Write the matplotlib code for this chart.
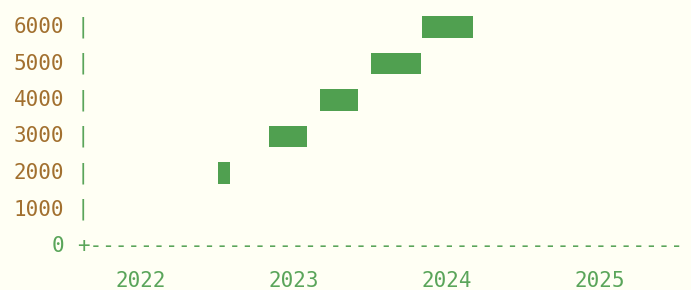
import matplotlib
matplotlib.use('Agg')
from matplotlib import pyplot as plt
from matplotlib import transforms

# rows of the range chart and the month span of each bar (year, month)
row_values = [2000, 3000, 4000, 5000, 6000]
span_start = [(2022, 7), (2022, 11), (2023, 3), (2023, 7), (2023, 11)]
span_end = [(2022, 8), (2023, 2), (2023, 6), (2023, 11), (2024, 3)]
y_ticks = [0, 1000, 2000, 3000, 4000, 5000, 6000]
x_ticks = [2022, 2023, 2024, 2025]

bg = '#fffff4'
brown = '#a2702f'
green = '#5aa55a'
bar_green = '#50a050'
mono = 'DejaVu Sans Mono'
fs = 15


def dec_year(ym):
    return ym[0] + (ym[1] - 1) / 12.0


fig = plt.figure(figsize=(6.91, 2.90), dpi=100, facecolor=bg)
ax = fig.add_axes([0, 0, 1, 1])
ax.set_facecolor(bg)
ax.axis('off')

# pixel layout: 2022 at x=141, 153 px per year; 0 at y=246, 36.5 px per 1000
ax.set_xlim(2022 - 141 / 153, 2022 + (691 - 141) / 153)
ax.set_ylim(-44 / 36.5 * 1000, 246 / 36.5 * 1000)

starts = [dec_year(s) for s in span_start]
widths = [dec_year(e) - dec_year(s) for s, e in zip(span_start, span_end)]
ax.barh(row_values, widths, left=starts, height=600, color=bar_green, edgecolor='none')

ty = transforms.blended_transform_factory(ax.transAxes, ax.transData)
tx = transforms.blended_transform_factory(ax.transData, ax.transAxes)

for v in y_ticks:
    col = green if v == 0 else brown
    ax.text(64 / 691, v, str(v), transform=ty, ha='right', va='center',
            fontsize=fs, family=mono, color=col)
    if v == 0:
        ax.text(77 / 691, v, '+' + '-' * 47, transform=ty, ha='left', va='center',
                fontsize=fs, family=mono, color=green)
    else:
        ax.text(83 / 691, v, '|', transform=ty, ha='center', va='center',
                fontsize=fs, family=mono, color=green)

for yr in x_ticks:
    ax.text(yr, 1 - 281 / 290, str(yr), transform=tx, ha='center', va='center',
            fontsize=fs, family=mono, color=green)

fig.savefig('out.png', dpi=100, facecolor=bg)
